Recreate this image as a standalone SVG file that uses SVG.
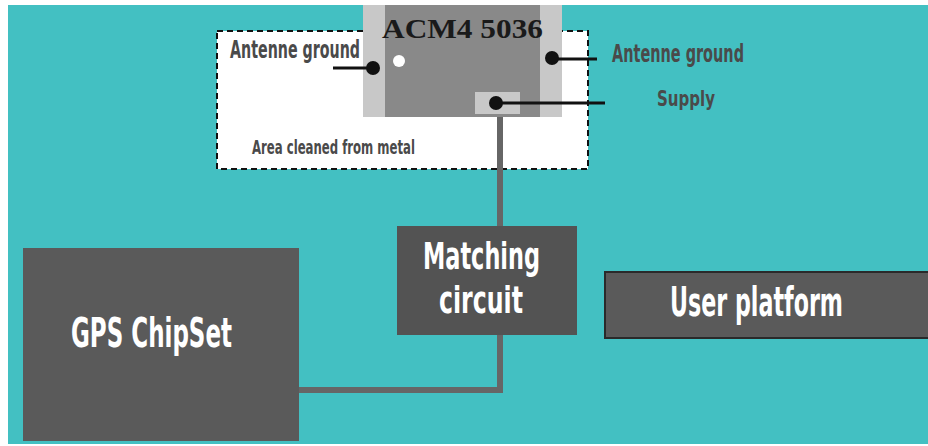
<svg xmlns="http://www.w3.org/2000/svg" width="928" height="446" viewBox="0 0 928 446">
<style>
.lbl{font-family:"Liberation Sans Narrow","DejaVu Sans Condensed","Liberation Sans",sans-serif;font-weight:bold;fill:#4a4a4a}
.big{font-family:"Liberation Sans Narrow","DejaVu Sans Condensed","Liberation Sans",sans-serif;font-weight:bold;fill:#ffffff}
.box{fill:#5a5a5a}
.wire{stroke:#666666;stroke-width:6;fill:none}
.lead{stroke:#111111;stroke-width:3}
.pin{fill:#111111}
</style>
<rect x="0" y="0" width="928" height="446" fill="#ffffff"/>
<rect x="8" y="5" width="920" height="439" fill="#43c0c2"/>

<g id="clear-area">
<rect x="217" y="31" width="371" height="138" fill="#ffffff" stroke="#111111" stroke-width="2" stroke-dasharray="6,4"/>
<text class="lbl" x="252" y="154" font-size="20" textLength="163" lengthAdjust="spacingAndGlyphs">Area cleaned from metal</text>
</g>

<g id="connectors">
<polyline class="wire" points="500,112 500,390 299,390"/>
</g>

<g id="antenna">
<rect x="363" y="5" width="199" height="112" fill="#c8c8c8"/>
<rect x="385" y="5" width="155" height="112" fill="#898989"/>
<text x="382" y="38" font-family="Liberation Serif, serif" font-weight="bold" font-size="27" fill="#1a1a1a" textLength="161" lengthAdjust="spacingAndGlyphs">ACM4 5036</text>
<circle cx="399" cy="61" r="6" fill="#ffffff"/>
<rect x="475" y="92" width="45" height="22" fill="#c8c8c8"/>
<line class="lead" x1="333" y1="68" x2="373" y2="68"/>
<circle class="pin" cx="373" cy="68" r="7"/>
<line class="lead" x1="552" y1="59" x2="597" y2="59"/>
<circle class="pin" cx="552" cy="58" r="7"/>
<line class="lead" x1="496" y1="103" x2="605" y2="103"/>
<circle class="pin" cx="496" cy="103" r="7"/>
</g>

<g id="label-left-ground">
<text class="lbl" x="230" y="58" font-size="24" textLength="130" lengthAdjust="spacingAndGlyphs">Antenne ground</text>
</g>
<g id="label-right-ground">
<text class="lbl" x="612" y="62" font-size="25" textLength="132" lengthAdjust="spacingAndGlyphs">Antenne ground</text>
</g>
<g id="label-supply">
<text class="lbl" x="657" y="106" font-size="22" textLength="58" lengthAdjust="spacingAndGlyphs">Supply</text>
</g>

<g id="matching">
<rect x="397" y="226" width="180" height="109" fill="#535353"/>
<text class="big" x="423" y="269" font-size="38" textLength="117" lengthAdjust="spacingAndGlyphs">Matching</text>
<text class="big" x="439" y="313" font-size="38" textLength="84" lengthAdjust="spacingAndGlyphs">circuit</text>
</g>

<g id="gps">
<rect class="box" x="23" y="248" width="276" height="193"/>
<text class="big" x="71" y="347" font-size="40" textLength="161" lengthAdjust="spacingAndGlyphs">GPS ChipSet</text>
</g>

<g id="user-platform">
<rect x="605" y="272" width="330" height="66" fill="#5a5a5a" stroke="#2a2a2a" stroke-width="2"/>
<text class="big" x="670" y="316" font-size="40" textLength="173" lengthAdjust="spacingAndGlyphs">User platform</text>
</g>
</svg>
